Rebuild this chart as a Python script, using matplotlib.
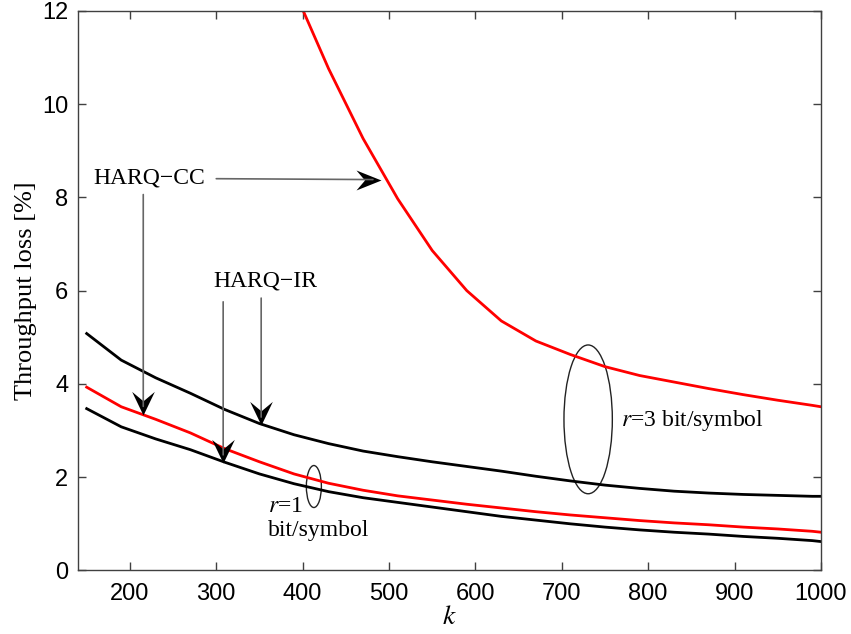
import numpy as np
import matplotlib
matplotlib.use("Agg")
import matplotlib.pyplot as plt
from matplotlib.path import Path
from matplotlib.patches import Ellipse

# k grid (block length)
k_vals = [150, 190, 230, 270, 310, 350, 390, 430, 470, 510, 550, 590, 630,
          670, 710, 750, 790, 830, 870, 910, 950, 990, 1000]

# r = 3 bit/symbol
cc_r3 = [None, None, None, None, None, None, 12.45, 10.76, 9.26, 7.97, 6.86, 6.00, 5.35,
         4.92, 4.63, 4.37, 4.18, 4.04, 3.90, 3.77, 3.65, 3.54, 3.51]
ir_r3 = [5.08, 4.51, 4.13, 3.80, 3.45, 3.15, 2.91, 2.72, 2.56, 2.44, 2.33, 2.23, 2.13,
         2.02, 1.92, 1.83, 1.76, 1.70, 1.66, 1.63, 1.61, 1.59, 1.59]

# r = 1 bit/symbol
cc_r1 = [3.93, 3.51, 3.24, 2.95, 2.61, 2.33, 2.07, 1.87, 1.72, 1.60, 1.51, 1.42, 1.34,
         1.26, 1.19, 1.13, 1.07, 1.02, 0.98, 0.93, 0.89, 0.84, 0.82]
ir_r1 = [3.47, 3.08, 2.82, 2.59, 2.32, 2.07, 1.86, 1.69, 1.56, 1.46, 1.36, 1.26, 1.16,
         1.08, 1.00, 0.93, 0.87, 0.82, 0.78, 0.73, 0.69, 0.64, 0.62]

plt.rcParams['mathtext.fontset'] = 'stix'
serif = 'Liberation Serif'
sans = 'Liberation Sans'

fig = plt.figure(figsize=(8.51, 6.34), dpi=100)
ax = fig.add_axes([0.0917, 0.1002, 0.873, 0.8828])


def to_arr(vals):
    return np.array([np.nan if v is None else v for v in vals], dtype=float)


lw = 2.0
ax.plot(k_vals, to_arr(cc_r3), color='#ff0000', lw=lw)
ax.plot(k_vals, to_arr(ir_r3), color='black', lw=lw)
ax.plot(k_vals, to_arr(cc_r1), color='#ff0000', lw=lw)
ax.plot(k_vals, to_arr(ir_r1), color='black', lw=lw)

ax.set_xlim(140, 1000)
ax.set_ylim(0, 12)
ax.set_xticks(range(200, 1001, 100))
ax.set_yticks(range(0, 13, 2))
ax.tick_params(direction='in', length=6, width=1, color='#404040',
               top=True, right=True, labelsize=17)
ax.tick_params(axis='x', pad=9)
ax.tick_params(axis='y', pad=7)
for lab in ax.get_xticklabels() + ax.get_yticklabels():
    lab.set_fontfamily(sans)
for sp in ax.spines.values():
    sp.set_color('#404040')
    sp.set_linewidth(1)

ax.set_xlabel('$k$', fontsize=20, labelpad=-2)
ax.set_ylabel('Throughput loss [%]', fontsize=19, family=serif, labelpad=4)

# notched arrow head marker, tip at origin
head = Path([(0, 0), (-0.48, 1.0), (0, 0.6), (0.48, 1.0), (0, 0)],
            [Path.MOVETO, Path.LINETO, Path.LINETO, Path.LINETO, Path.CLOSEPOLY])
head_right = Path([(0, 0), (-1.0, 0.40), (-0.66, 0), (-1.0, -0.40), (0, 0)],
                  [Path.MOVETO, Path.LINETO, Path.LINETO, Path.LINETO, Path.CLOSEPOLY])


def draw_arrow(start, tip, marker, size):
    ax.annotate('', xy=tip, xytext=start,
                arrowprops=dict(arrowstyle='-', color='#666666', lw=1.2,
                                shrinkA=0, shrinkB=6))
    ax.plot([tip[0]], [tip[1]], marker=marker, markersize=size,
            color='black', markeredgewidth=0, clip_on=False)


ax.text(222, 8.42, 'HARQ\u2212CC', fontsize=17, family=serif,
        ha='center', va='center')
draw_arrow((300, 8.40), (491, 8.38), head_right, 36)
draw_arrow((215.5, 8.06), (215.5, 3.34), head, 34)

ax.text(357, 6.21, 'HARQ\u2212IR', fontsize=17, family=serif,
        ha='center', va='center')
draw_arrow((308, 5.76), (308, 2.30), head, 34)
draw_arrow((352, 5.84), (352, 3.11), head, 34)

ax.add_patch(Ellipse((413, 1.80), 17.4, 0.90, fill=False, ec='#222222', lw=1))
ax.add_patch(Ellipse((730.5, 3.24), 56, 3.19, fill=False, ec='#222222', lw=1))

ax.text(769, 3.22, '$r$=3 bit/symbol', fontsize=17, family=serif,
        ha='left', va='center')
ax.text(360, 1.37, '$r$=1', fontsize=17, family=serif, ha='left', va='center')
ax.text(360, 0.85, 'bit/symbol', fontsize=17, family=serif, ha='left', va='center')

fig.savefig('out.png', dpi=100)
